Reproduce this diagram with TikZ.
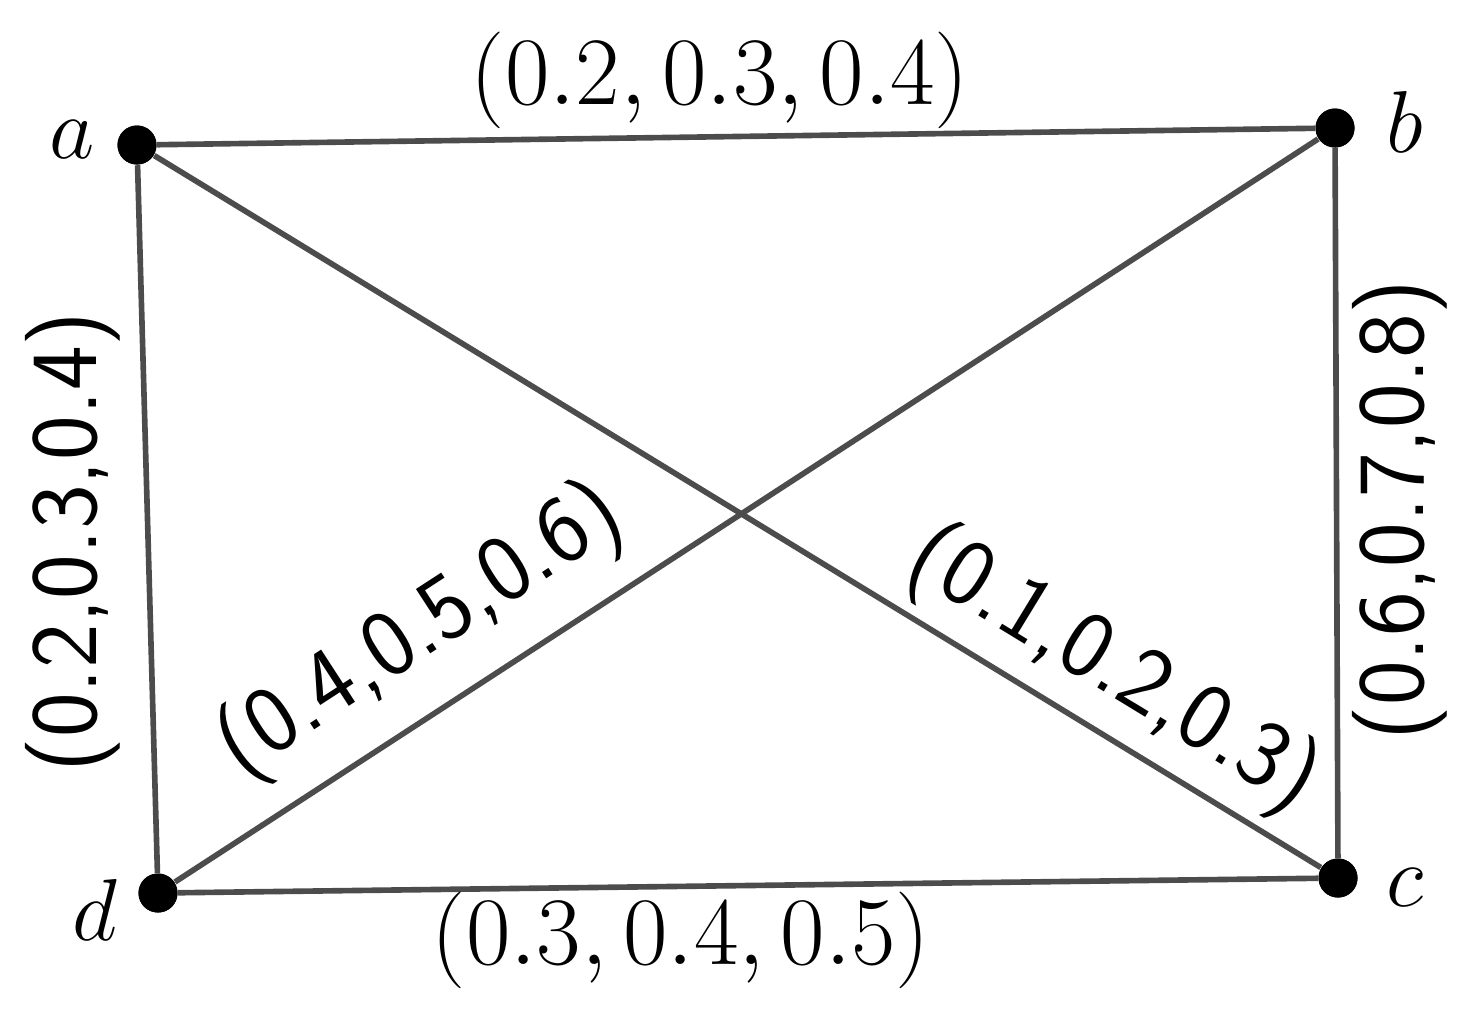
\RequirePackage{fix-cm}
\documentclass[tikz,border=0pt]{standalone}
\begin{document}
\begin{tikzpicture}[x=0.01cm,y=-0.01cm,
  vtx/.style={circle,fill=black,inner sep=0pt,minimum size=0.39cm},
  edge/.style={draw=black!70,line width=1.6pt},
  vlab/.style={inner sep=0pt,font=\fontsize{25}{30}\selectfont},
  lab/.style={inner sep=0pt,font=\fontsize{27.5}{33}\selectfont},
  slab/.style={inner sep=0pt,font=\fontsize{27}{32}\selectfont\sffamily}]
\useasboundingbox (0,0) rectangle (1480,1008);
\node[vtx] (a) at (137,145) {};
\node[vtx] (b) at (1335,128) {};
\node[vtx] (c) at (1338,878) {};
\node[vtx] (d) at (158,893) {};
\draw[edge] (a) -- (b);
\draw[edge] (b) -- (c);
\draw[edge] (c) -- (d);
\draw[edge] (d) -- (a);
\draw[edge] (a) -- (c);
\draw[edge] (d) -- (b);
\node[vtx] at (a) {};
\node[vtx] at (b) {};
\node[vtx] at (c) {};
\node[vtx] at (d) {};
\node[vlab] (la) at (72,140) {$a$};
\node[vlab] (lb) at (1405,122) {$b$};
\node[vlab] (lc) at (1405,888) {$c$};
\node[vlab] (ld) at (95,910) {$d$};
\node[lab] (eab) at (720,80) {$(0.2,0.3,0.4)$};
\node[lab] (edc) at (681,940) {$(0.3,0.4,0.5)$};
\node[slab,rotate=90] (ead) at (73,542) {(0.2,0.3,0.4)};
\node[slab,rotate=90] (ebc) at (1400,510) {(0.6,0.7,0.8)};
\node[slab,rotate=33] (edb) at (421,632) {(0.4,0.5,0.6)};
\node[slab,rotate=-31.4] (eac) at (1113,670) {(0.1,0.2,0.3)};
\end{tikzpicture}
\end{document}
